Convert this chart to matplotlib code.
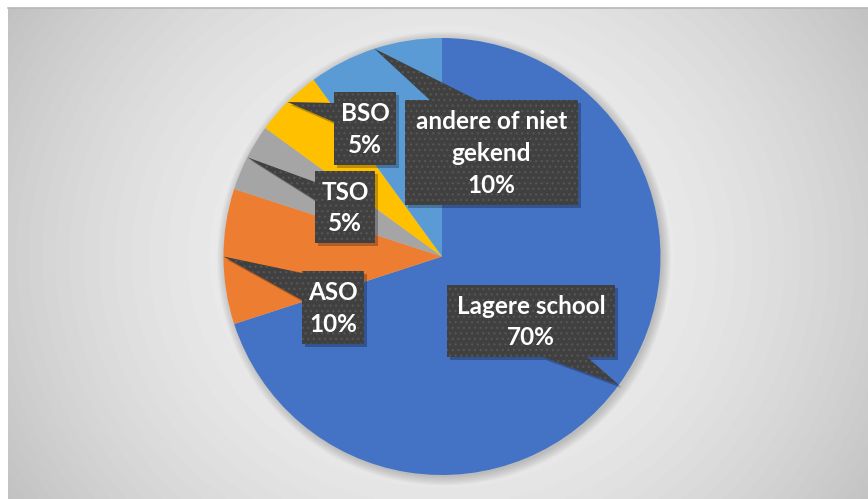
import numpy as np
import matplotlib
matplotlib.use('Agg')
from matplotlib import pyplot as plt
from matplotlib.patches import Polygon, Circle

# data
labels = ['Lagere school', 'ASO', 'TSO', 'BSO', 'andere of niet\ngekend']
values = [70, 10, 5, 5, 10]
colors = ['#4472C4', '#ED7D31', '#A5A5A5', '#FFC000', '#5B9BD5']

# label boxes in pixels (left, top, right, bottom) + pointer base on which side
boxes = [
    ((447, 285, 615, 357), 'bottom', (543, 587)),
    ((302, 271, 364, 344), 'left', (273, 300)),
    ((315, 171, 375, 243), 'left', (182, 200)),
    ((334, 92, 396, 165), 'left', (103, 122)),
    ((405, 100, 578, 205), 'top', (430, 477)),
]

W, H = 868, 499
CX, CY, R = 442, 256.5, 218.5


def px(x, y):
    # pixel (from top left) -> data units of the pie
    return ((x - CX) / R, (CY - y) / R)


plt.rcParams['font.family'] = ['Lato', 'DejaVu Sans']
plt.rcParams['hatch.linewidth'] = 0.9

fig = plt.figure(figsize=(W / 100, H / 100), dpi=100)
ax = fig.add_axes([0, 0, 1, 1])

# radial grey background
yy, xx = np.mgrid[8:H, 8:W]
d = np.hypot(xx - CX, (yy - CY) * 1.1)
v = 0.95 - 0.17 * np.clip(d / 480, 0, 1.2) ** 2
x0, y0 = px(8, 8)
x1, y1 = px(W, H)
ax.imshow(v, cmap='gray', vmin=0, vmax=1, extent=(x0, x1, y1, y0), zorder=0)
ax.plot([x0, x1], [y0, y0], color='#b8b8b8', lw=1.2, zorder=1)

# soft pie shadow
for i in range(8):
    ax.add_patch(Circle(px(CX + 2, CY + 2), 1 + i * 1.2 / R, color='black',
                        alpha=0.025, lw=0, zorder=1))

wedges, _ = ax.pie(values, colors=colors, startangle=90, counterclock=False,
                   radius=1, center=(0, 0), wedgeprops=dict(linewidth=0))
for w in wedges:
    w.set_zorder(2)

for w, lab, val, (box, side, base) in zip(wedges, labels, values, boxes):
    ang = np.deg2rad((w.theta1 + w.theta2) / 2)
    tip = (np.cos(ang), np.sin(ang))
    l, t, r, b = box
    if side == 'bottom':
        pts = [px(l, t), px(r, t), px(r, b), px(base[1], b), tip, px(base[0], b), px(l, b)]
    elif side == 'top':
        pts = [px(l, t), px(base[0], t), tip, px(base[1], t), px(r, t), px(r, b), px(l, b)]
    else:
        pts = [px(l, t), px(r, t), px(r, b), px(l, b), px(l, base[1]), tip, px(l, base[0])]
    pts = np.array(pts)
    sh = pts + np.array([3 / R, -3 / R])
    ax.add_patch(Polygon(sh, closed=True, facecolor='black', alpha=0.25, lw=0, zorder=3))
    ax.add_patch(Polygon(pts, closed=True, facecolor='#404040', edgecolor='#555555',
                         hatch='...', lw=0, zorder=4))
    cx, cy = px((l + r) / 2, (t + b) / 2 + 1)
    ax.text(cx, cy, f'{lab}\n{val}%', ha='center', va='center', color='white',
            fontsize=17.5, fontweight='bold', linespacing=1.45, zorder=5)

ax.set_xlim(-CX / R, (W - CX) / R)
ax.set_ylim(-(H - CY) / R, CY / R)
ax.set_aspect('auto')
ax.axis('off')

plt.savefig('out.png', dpi=100, facecolor='white')
